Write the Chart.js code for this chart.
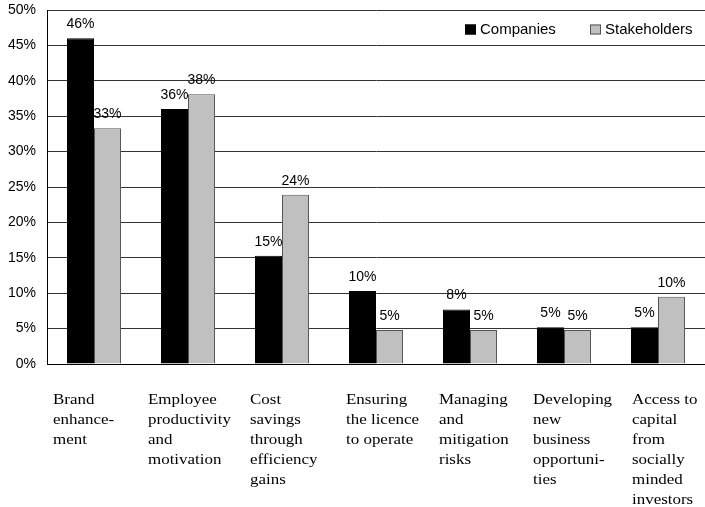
<!DOCTYPE html>
<html>
<head>
<meta charset="utf-8">
<script src="https://cdn.jsdelivr.net/npm/chart.js@4/dist/chart.umd.min.js"></script>
<style>
html,body{margin:0;padding:0;background:#fff;}
#wrap{width:705px;height:507px;position:relative;}
</style>
</head>
<body>
<div id="wrap"><canvas id="c" width="705" height="507"></canvas></div>
<script>
const categories = [
  ["Brand","enhance-","ment"],
  ["Employee","productivity","and","motivation"],
  ["Cost","savings","through","efficiency","gains"],
  ["Ensuring","the licence","to operate"],
  ["Managing","and","mitigation","risks"],
  ["Developing","new","business","opportuni-","ties"],
  ["Access to","capital","from","socially","minded","investors"]
];
const companies = [46.0, 36.0, 15.3, 10.3, 7.7, 5.2, 5.2];
const stakeholders = [33.3, 38.1, 23.9, 4.8, 4.8, 4.8, 9.5];
const yTicks = [0, 5, 10, 15, 20, 25, 30, 35, 40, 45, 50];

// layout-only: left edge of each category caption
const captionLeft = [53, 148, 250, 346, 439, 533, 632];

const valueLabels = {
  id: 'valueLabels',
  afterDatasetsDraw(chart) {
    const ctx = chart.ctx;
    ctx.save();
    ctx.font = '14px "Liberation Sans", Arial, sans-serif';
    ctx.fillStyle = '#000';
    ctx.textAlign = 'center';
    ctx.textBaseline = 'alphabetic';
    chart.data.datasets.forEach((ds, di) => {
      const meta = chart.getDatasetMeta(di);
      meta.data.forEach((bar, i) => {
        const txt = Math.round(ds.data[i]) + '%';
        ctx.fillText(txt, bar.x, bar.y - 10);
      });
    });
    ctx.restore();
  }
};

const captions = {
  id: 'captions',
  afterDraw(chart) {
    const ctx = chart.ctx;
    ctx.save();
    ctx.font = '15px "Liberation Serif", "Times New Roman", serif';
    ctx.fillStyle = '#000';
    ctx.textAlign = 'left';
    ctx.textBaseline = 'alphabetic';
    const top = chart.chartArea.bottom + 40;
    const sx = 1.13;
    categories.forEach((lines, i) => {
      lines.forEach((ln, j) => {
        ctx.save();
        ctx.translate(captionLeft[i], top + j * 20);
        ctx.scale(sx, 1);
        ctx.fillText(ln, 0, 0);
        ctx.restore();
      });
    });
    ctx.restore();
  }
};

const innerLegend = {
  id: 'innerLegend',
  afterDraw(chart) {
    const ctx = chart.ctx;
    ctx.save();
    ctx.font = '15px "Liberation Sans", Arial, sans-serif';
    ctx.textBaseline = 'middle';
    ctx.textAlign = 'left';
    const y = 29.5;
    const items = [
      {x: 465, ds: chart.data.datasets[0]},
      {x: 590, ds: chart.data.datasets[1]}
    ];
    items.forEach(it => {
      ctx.fillStyle = it.ds.backgroundColor;
      ctx.fillRect(it.x, y - 5, 11, 10);
      ctx.strokeStyle = it.ds.borderColor;
      ctx.lineWidth = 1;
      ctx.strokeRect(it.x + 0.5, y - 4.5, 10, 9);
      ctx.fillStyle = '#000';
      ctx.fillText(it.ds.label, it.x + 15, y);
    });
    ctx.restore();
  }
};

new Chart(document.getElementById('c'), {
  type: 'bar',
  data: {
    labels: categories.map(l => l.join(' ')),
    datasets: [
      {label: 'Companies', data: companies, backgroundColor: '#000000', borderColor: '#000000', borderWidth: 1},
      {label: 'Stakeholders', data: stakeholders, backgroundColor: '#c0c0c0', borderColor: '#555555', borderWidth: 1}
    ]
  },
  options: {
    responsive: false,
    animation: false,
    devicePixelRatio: 1,
    layout: {padding: {top: 10, left: 0, right: 0, bottom: 0}},
    datasets: {bar: {categoryPercentage: 0.575, barPercentage: 1.0}},
    plugins: {legend: {display: false}, tooltip: {enabled: false}},
    scales: {
      x: {
        grid: {display: false},
        border: {display: true, color: '#000', width: 1},
        ticks: {display: false},
        afterFit(scale) { scale.height = 143; scale.paddingLeft = 0; scale.paddingRight = 0; }
      },
      y: {
        min: 0, max: 50,
        afterBuildTicks(scale) { scale.ticks = yTicks.map(v => ({value: v})); },
        ticks: {
          callback: v => v + '%',
          color: '#000',
          padding: 11,
          font: {family: '"Liberation Sans", Arial, sans-serif', size: 14}
        },
        grid: {color: '#333', lineWidth: 1, drawTicks: false},
        border: {display: true, color: '#000', width: 1},
        afterFit(scale) { scale.width = 47; scale.paddingTop = 0; scale.paddingBottom = 0; }
      }
    }
  },
  plugins: [valueLabels, captions, innerLegend]
});
</script>
</body>
</html>
